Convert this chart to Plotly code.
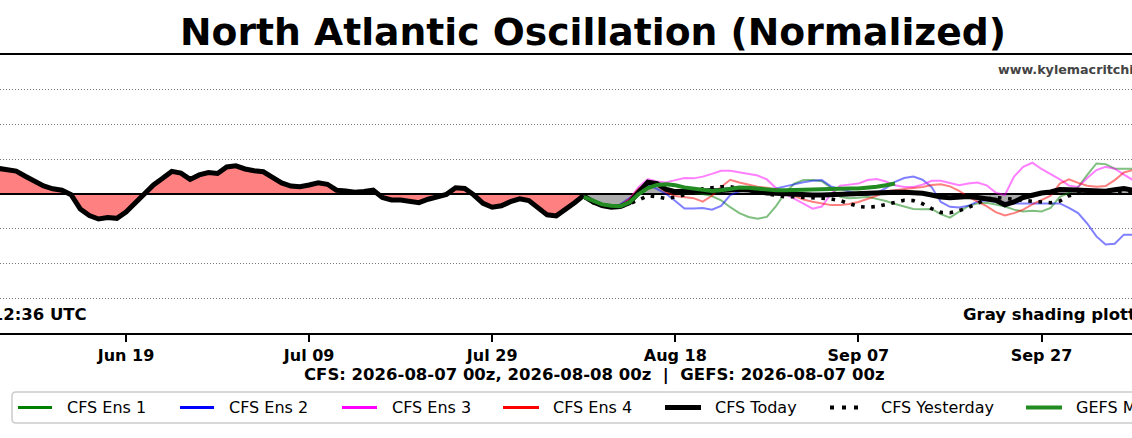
import pandas as pd
import plotly.graph_objects as go

# ---------------- data ----------------
obs_start = "2026-06-05"
obs_nao = [0.74, 0.71, 0.66, 0.51, 0.36, 0.23, 0.15, 0.11, -0.02, -0.43,
           -0.62, -0.72, -0.68, -0.70, -0.52, -0.27, 0.02, 0.26, 0.45, 0.65,
           0.60, 0.42, 0.55, 0.62, 0.59, 0.78, 0.81, 0.72, 0.67, 0.64,
           0.48, 0.32, 0.23, 0.21, 0.26, 0.32, 0.28, 0.11, 0.09, 0.05,
           0.07, 0.11, -0.10, -0.17, -0.17, -0.22, -0.25, -0.15, -0.08, -0.01,
           0.18, 0.16, -0.03, -0.27, -0.38, -0.34, -0.22, -0.14, -0.19, -0.41,
           -0.60, -0.63, -0.46, -0.25, -0.04]

fc_start = "2026-08-08"
cfs_ens1 = [-0.06, -0.25, -0.36, -0.38, -0.33, -0.15, 0.15, 0.27, 0.27, 0.18,
            0.10, 0.06, 0.04, 0.00, -0.06, -0.18, -0.38, -0.55, -0.66, -0.71,
            -0.66, -0.35, 0.03, 0.30, 0.40, 0.40, 0.37, 0.18, -0.08, -0.12,
            -0.11, -0.08, -0.14, -0.20, -0.29, -0.36, -0.43, -0.44, -0.43, -0.58,
            -0.68, -0.51, -0.35, -0.27, -0.25, -0.30, -0.36, -0.45, -0.50, -0.48,
            -0.50, -0.40, -0.08, 0.03, 0.20, 0.55, 0.88, 0.86, 0.73, 0.73, 0.73]
cfs_ens2 = [-0.06, -0.25, -0.36, -0.38, -0.30, -0.12, 0.10, 0.25, 0.15, 0.00,
            -0.20, -0.42, -0.42, -0.40, -0.45, -0.34, -0.03, 0.08, 0.10, 0.12,
            0.14, 0.16, 0.22, 0.29, 0.34, 0.38, 0.40, 0.22, 0.14, 0.06,
            0.00, -0.03, 0.03, 0.17, 0.35, 0.46, 0.50, 0.41, 0.20, -0.23,
            -0.37, -0.39, -0.34, -0.22, -0.18, -0.23, -0.26, -0.27, -0.27, -0.27,
            -0.26, -0.25, -0.27, -0.40, -0.55, -0.85, -1.22, -1.45, -1.43, -1.17, -1.17]
cfs_ens3 = [-0.06, -0.25, -0.36, -0.38, -0.33, -0.15, 0.20, 0.43, 0.36, 0.33,
            0.40, 0.46, 0.45, 0.50, 0.58, 0.67, 0.67, 0.63, 0.59, 0.53,
            0.42, 0.17, 0.00, -0.15, -0.28, -0.42, -0.36, 0.00, 0.24, 0.27,
            0.30, 0.40, 0.43, 0.36, 0.25, 0.20, 0.20, 0.27, 0.38, 0.38,
            0.32, 0.25, 0.30, 0.33, 0.25, 0.04, -0.03, 0.50, 0.78, 0.90,
            0.72, 0.58, 0.42, 0.24, 0.20, 0.46, 0.69, 0.78, 0.73, 0.56, 0.40]
cfs_ens4 = [-0.06, -0.25, -0.36, -0.38, -0.33, -0.15, 0.15, 0.33, 0.25, 0.05,
            -0.06, -0.10, -0.12, -0.22, -0.05, 0.20, 0.41, 0.33, 0.27, 0.21,
            0.18, 0.13, 0.05, -0.06, -0.16, -0.22, -0.28, -0.32, -0.32, -0.29,
            -0.23, -0.15, -0.05, 0.08, 0.11, 0.13, 0.15, 0.20, 0.26, 0.28,
            0.22, 0.09, -0.08, -0.22, -0.35, -0.52, -0.62, -0.55, -0.45, -0.30,
            -0.18, -0.05, 0.30, 0.42, 0.32, 0.24, 0.21, 0.23, 0.40, 0.62, 0.69]
cfs_today = [-0.06, -0.22, -0.33, -0.38, -0.36, -0.25, 0.05, 0.34, 0.30, 0.13,
             0.07, 0.07, 0.07, 0.08, 0.09, 0.10, 0.12, 0.14, 0.12, 0.06,
             0.03, 0.02, 0.00, -0.01, -0.02, -0.03, -0.03, -0.02, 0.00, 0.02,
             0.04, 0.05, 0.05, 0.05, 0.05, 0.05, 0.04, 0.02, -0.03, -0.09,
             -0.11, -0.10, -0.07, -0.10, -0.15, -0.18, -0.31, -0.23, -0.10, -0.02,
             0.03, 0.06, 0.13, 0.12, 0.11, 0.10, 0.09, 0.08, 0.12, 0.16, 0.11]
cfs_yesterday = [-0.08, -0.25, -0.34, -0.38, -0.36, -0.28, -0.17, -0.05, -0.08, -0.13,
                 -0.09, -0.03, 0.05, 0.15, 0.19, 0.21, 0.21, 0.17, 0.11, 0.05,
                 0.00, -0.05, -0.08, -0.08, -0.09, -0.11, -0.13, -0.14, -0.19, -0.27,
                 -0.36, -0.38, -0.36, -0.30, -0.24, -0.18, -0.19, -0.28, -0.42, -0.53,
                 -0.54, -0.48, -0.39, -0.27, -0.15, -0.10, -0.12, -0.15, -0.18, -0.21,
                 -0.24, -0.25, -0.20, -0.05, 0.02, 0.05, 0.06, 0.07, 0.05, 0.06, 0.06]
gefs_mean = [-0.08, -0.20, -0.30, -0.34, -0.35, -0.24, 0.00, 0.17, 0.26, 0.28,
             0.25, 0.19, 0.15, 0.11, 0.09, 0.11, 0.15, 0.19, 0.18, 0.16,
             0.12, 0.11, 0.11, 0.12, 0.13, 0.14, 0.14, 0.14, 0.15, 0.16,
             0.16, 0.18, 0.21, 0.25, 0.30]

tick_dates = ["2026-06-19", "2026-07-09", "2026-07-29", "2026-08-18", "2026-09-07", "2026-09-27"]
tick_labels = ["Jun 19", "Jul 09", "Jul 29", "Aug 18", "Sep 07", "Sep 27"]
x_range = ["2026-06-05 05:40", "2026-10-06 21:15"]
y_range = [-4, 4]
grid_vals = [-3, -2, -1, 1, 2, 3]

legend_names = ["CFS Ens 1", "CFS Ens 2", "CFS Ens 3", "CFS Ens 4",
                "CFS Today", "CFS Yesterday", "GEFS Mean"]

title_text = "North Atlantic Oscillation (Normalized)"
xlabel_text = "CFS: 2026-08-07 00z, 2026-08-08 00z \u00a0|\u00a0 GEFS: 2026-08-07 00z"
site_text = "www.kylemacritchie.com"
updated_text = "Updated: 2026-08-08 12:36 UTC"
shading_text = "Gray shading plotted between CFS Today and zero"

# ---------------- figure ----------------
W, H = 1132, 438
T, B = 55, 105
PH = H - T - B
FONT = "DejaVu Sans"


def xp(px):
    return px / W


def yp(py):
    return (H - B - py) / PH


obs_dates = pd.date_range(obs_start, periods=len(obs_nao), freq="D")
fc_dates = pd.date_range(fc_start, periods=len(cfs_today), freq="D")
gefs_dates = pd.date_range(fc_start, periods=len(gefs_mean), freq="D")

fig = go.Figure()

# fills
fig.add_trace(go.Scatter(x=obs_dates, y=obs_nao, mode="lines", line=dict(width=0),
                         fill="tozeroy", fillcolor="rgb(255,128,128)",
                         hoverinfo="skip", showlegend=False))
fig.add_trace(go.Scatter(x=fc_dates, y=cfs_today, mode="lines", line=dict(width=0),
                         fill="tozeroy", fillcolor="rgb(172,172,172)",
                         hoverinfo="skip", showlegend=False))
# zero line
fig.add_trace(go.Scatter(x=[obs_dates[0], fc_dates[-1]], y=[0, 0], mode="lines",
                         line=dict(color="black", width=2), hoverinfo="skip",
                         showlegend=False))

ens_colors = ["rgba(0,128,0,0.5)", "rgba(0,0,255,0.5)", "rgba(255,0,255,0.5)", "rgba(255,0,0,0.5)"]
for vals, col, name in zip([cfs_ens1, cfs_ens2, cfs_ens3, cfs_ens4], ens_colors, legend_names[:4]):
    fig.add_trace(go.Scatter(x=fc_dates, y=vals, mode="lines", name=name,
                             line=dict(color=col, width=2), showlegend=False))

fig.add_trace(go.Scatter(x=fc_dates, y=cfs_yesterday, mode="lines", name="CFS Yesterday",
                         line=dict(color="black", width=3.6, dash="3.6px,6.6px"),
                         showlegend=False))
fig.add_trace(go.Scatter(x=fc_dates, y=cfs_today, mode="lines", name="CFS Today",
                         line=dict(color="black", width=5), showlegend=False))
fig.add_trace(go.Scatter(x=obs_dates, y=obs_nao, mode="lines", name="Observed",
                         line=dict(color="black", width=5), showlegend=False))
fig.add_trace(go.Scatter(x=gefs_dates, y=gefs_mean, mode="lines", name="GEFS Mean",
                         line=dict(color="forestgreen", width=4), showlegend=False))

# ---------------- manual legend ----------------
shapes = []
lx0, lx1, ly0, ly1, r = 12, 1220, 392, 423, 4
path = (f"M {xp(lx0 + r)},{yp(ly0)} L {xp(lx1 - r)},{yp(ly0)} "
        f"Q {xp(lx1)},{yp(ly0)} {xp(lx1)},{yp(ly0 + r)} L {xp(lx1)},{yp(ly1 - r)} "
        f"Q {xp(lx1)},{yp(ly1)} {xp(lx1 - r)},{yp(ly1)} L {xp(lx0 + r)},{yp(ly1)} "
        f"Q {xp(lx0)},{yp(ly1)} {xp(lx0)},{yp(ly1 - r)} L {xp(lx0)},{yp(ly0 + r)} "
        f"Q {xp(lx0)},{yp(ly0)} {xp(lx0 + r)},{yp(ly0)} Z")
shapes.append(dict(type="path", xref="paper", yref="paper", path=path,
                   line=dict(color="rgb(204,204,204)", width=1.5), fillcolor="white",
                   layer="above"))

leg_y = 407.5
handle_x = [(18, 52), (180, 214), (342, 377), (503, 539), (665, 701), (830, 862), (1026, 1062)]
text_x = [65, 227, 390, 551, 713, 879, 1074]
handle_col = ["green", "blue", "magenta", "red", "black", "black", "forestgreen"]
handle_w = [3, 3, 3, 3, 5, 4, 4]
handle_dash = ["solid"] * 5 + ["4px,8px"] + ["solid"]
for (hx0, hx1), col, w, d in zip(handle_x, handle_col, handle_w, handle_dash):
    shapes.append(dict(type="line", xref="paper", yref="paper",
                       x0=xp(hx0), x1=xp(hx1), y0=yp(leg_y), y1=yp(leg_y),
                       line=dict(color=col, width=w, dash=d), layer="above"))

annotations = []
for tx, name in zip(text_x, legend_names):
    annotations.append(dict(text=name, xref="paper", yref="paper", x=xp(tx), y=yp(leg_y),
                            xanchor="left", yanchor="middle", showarrow=False,
                            font=dict(family=FONT, size=16, color="black")))

annotations += [
    dict(text=f"<b>{title_text}</b>", xref="paper", yref="paper", x=xp(593), y=yp(32),
         xanchor="center", yanchor="middle", showarrow=False,
         font=dict(family=FONT, size=37.7, color="black")),
    dict(text=f"<b>{xlabel_text}</b>", xref="paper", yref="paper", x=xp(594), y=yp(375),
         xanchor="center", yanchor="middle", showarrow=False,
         font=dict(family=FONT, size=16.5, color="black")),
    dict(text=f"<b>{site_text}</b>", xref="paper", yref="paper", x=xp(996), y=yp(69),
         xanchor="left", yanchor="middle", showarrow=False,
         font=dict(family=FONT, size=12.7, color="rgb(68,68,68)")),
    dict(text=f"<b>{updated_text}</b>", xref="paper", yref="paper", x=xp(89), y=yp(314),
         xanchor="right", yanchor="middle", showarrow=False,
         font=dict(family=FONT, size=16.5, color="black")),
    dict(text=f"<b>{shading_text}</b>", xref="paper", yref="paper", x=xp(961), y=yp(314),
         xanchor="left", yanchor="middle", showarrow=False,
         font=dict(family=FONT, size=16.5, color="black")),
]

fig.update_layout(
    width=W, height=H, autosize=False,
    margin=dict(l=0, r=0, t=T, b=B, pad=0),
    paper_bgcolor="white", plot_bgcolor="white",
    showlegend=False,
    shapes=shapes, annotations=annotations,
    font=dict(family=FONT, color="black"),
    xaxis=dict(type="date", range=x_range, showgrid=False, zeroline=False,
               showline=True, mirror=True, linecolor="black", linewidth=2,
               ticks="outside", ticklen=7, tickwidth=2, tickcolor="black",
               tickvals=tick_dates, ticktext=[f"<b>{t}</b>" for t in tick_labels],
               tickfont=dict(family=FONT, size=16, color="black")),
    yaxis=dict(range=y_range, showgrid=True, gridcolor="rgb(120,120,120)", gridwidth=1,
               griddash="1px,2px", tickvals=grid_vals, showticklabels=False,
               zeroline=False, showline=False, ticks=""),
)

# the page body has a default 8px margin; remove it so the figure fills the window
fig.write_html("out.html", config={"displayModeBar": False},
               post_script="document.body.style.margin='0';document.body.style.overflow='hidden';")
